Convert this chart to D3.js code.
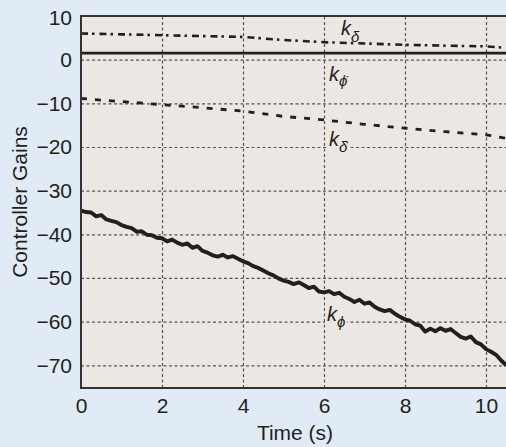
<!DOCTYPE html>
<html>
<head>
<meta charset="utf-8">
<script src="https://cdn.jsdelivr.net/npm/d3@7"></script>
<style>
  html, body { margin: 0; padding: 0; background: #e1ebf5; }
  svg { display: block; }
  text { font-family: "Liberation Sans", Arial, Helvetica, sans-serif; fill: #231f20; }
</style>
</head>
<body>
<svg id="chart" width="506" height="447"></svg>
<script>
// ---- data ----
const xTicks = [0, 2, 4, 6, 8, 10];
const yTicks = [10, 0, -10, -20, -30, -40, -50, -60, -70];
const xLabel = "Time (s)";
const yLabel = "Controller Gains";

// k_delta (dash-dot)
const kDeltaT = [0, 1, 2, 3, 4, 5, 6, 7, 8, 9, 10, 10.5];
const kDeltaV = [6.0, 5.8, 5.6, 5.4, 5.2, 4.5, 4.0, 3.7, 3.4, 3.2, 3.05, 2.7];

// k_phi_dot (solid thin)
const kPhiDotT = [0, 10.5];
const kPhiDotV = [1.5, 1.5];

// k_delta_dot (dashed)
const kDeltaDotT = [0, 1, 2, 3, 4, 5, 6, 7, 8, 9, 10, 10.5];
const kDeltaDotV = [-8.9, -9.6, -10.3, -11.0, -11.8, -13.0, -13.8, -14.8, -15.7, -16.5, -17.2, -18.0];

// k_phi (thick noisy solid), sampled every 0.125 s
const kPhiT = d3.range(85).map(i => i * 0.125);
const kPhiV = [
  -34.6, -34.9, -35.0, -35.9, -35.6, -36.6, -36.9, -37.2,
  -37.9, -38.3, -38.6, -39.4, -39.3, -40.1, -40.2, -40.8,
  -40.9, -41.6, -41.2, -41.9, -42.4, -42.1, -43.1, -42.7,
  -43.8, -44.2, -44.8, -45.1, -44.7, -45.3, -45.0, -45.6,
  -46.2, -46.6, -47.3, -47.7, -48.3, -48.9, -49.4, -50.1,
  -50.6, -50.9, -51.4, -51.0, -51.6, -52.3, -52.0, -53.1,
  -53.3, -53.0, -53.7, -53.4, -54.3, -54.8, -55.5, -55.0,
  -55.9, -55.6, -56.6, -57.2, -57.6, -57.3, -58.2, -58.9,
  -59.5, -59.8, -60.6, -60.9, -62.3, -61.6, -62.2, -61.5,
  -62.1, -61.7, -62.6, -63.5, -63.9, -63.4, -64.7, -65.2,
  -66.3, -66.9, -67.6, -68.9, -70.0
];

// ---- layout ----
const svg = d3.select("#chart");
const W = 506, H = 447;
const pLeft = 81, pTop = 16, pBottom = 388, pRight = 506.25;
const plotBg = "#ece7e2";
const ink = "#231f20";

const x = d3.scaleLinear().domain([0, 10.5]).range([pLeft, pRight]);
const y = d3.scaleLinear().domain([-75.2, 10]).range([pBottom, pTop]);

svg.append("rect").attr("width", W).attr("height", H).attr("fill", "#e1ebf5");
svg.append("rect")
  .attr("x", pLeft).attr("y", pTop)
  .attr("width", W - pLeft).attr("height", pBottom - pTop)
  .attr("fill", plotBg);

// grid
const gridX = svg.append("g")
  .attr("transform", `translate(0,${pBottom})`)
  .call(d3.axisBottom(x).tickValues(xTicks.filter(d => d !== 0)).tickSize(-(pBottom - pTop)).tickFormat(""));
const gridY = svg.append("g")
  .attr("transform", `translate(${pLeft},0)`)
  .call(d3.axisLeft(y).tickValues(yTicks.filter(d => d !== 10)).tickSize(-(W - pLeft)).tickFormat(""));
[gridX, gridY].forEach(g => {
  g.select(".domain").remove();
  g.selectAll(".tick line")
    .attr("stroke", "#5a5552")
    .attr("stroke-width", 1.2)
    .attr("stroke-dasharray", "3,2.5");
});

// label backgrounds layer (under lines)
const labelBgLayer = svg.append("g");

// lines
const lineGen = d3.line().x(d => x(d[0])).y(d => y(d[1]));
function drawLine(ts, vs, width, dash) {
  svg.append("path")
    .datum(ts.map((t, i) => [t, vs[i]]))
    .attr("d", lineGen)
    .attr("fill", "none")
    .attr("stroke", ink)
    .attr("stroke-width", width)
    .attr("stroke-linejoin", "round")
    .attr("stroke-dasharray", dash || null);
}
drawLine(kDeltaT, kDeltaV, 2.6, "7,4,2.5,5");
drawLine(kPhiDotT, kPhiDotV, 2.8, null);
drawLine(kDeltaDotT, kDeltaDotV, 2.8, "6,8");
drawLine(kPhiT, kPhiV, 3.9, null);

// axes frame
const axisY = svg.append("g")
  .attr("transform", `translate(${pLeft},0)`)
  .call(d3.axisLeft(y).tickValues(yTicks).tickSize(0).tickPadding(9));
const axisX = svg.append("g")
  .attr("transform", `translate(0,${pBottom})`)
  .call(d3.axisBottom(x).tickValues(xTicks).tickSize(0).tickPadding(10));
[axisX, axisY].forEach(g => {
  g.select(".domain").remove();
  g.selectAll(".tick text")
    .style("font-family", '"Liberation Sans", Arial, sans-serif')
    .style("font-size", "21px")
    .attr("fill", ink);
});
axisY.selectAll(".tick text").filter(d => d === 10).attr("y", 2);

svg.append("line").attr("x1", pLeft).attr("x2", pLeft).attr("y1", pTop - 1).attr("y2", pBottom + 1)
  .attr("stroke", "#333").attr("stroke-width", 2);
svg.append("line").attr("x1", pLeft).attr("x2", W).attr("y1", pTop).attr("y2", pTop)
  .attr("stroke", "#333").attr("stroke-width", 2);
svg.append("line").attr("x1", pLeft).attr("x2", W).attr("y1", pBottom).attr("y2", pBottom)
  .attr("stroke", "#333").attr("stroke-width", 2);

// axis titles
svg.append("text")
  .attr("x", 295).attr("y", 440)
  .attr("text-anchor", "middle")
  .style("font-size", "21px")
  .text(xLabel);
svg.append("text")
  .attr("transform", `translate(27,${(pTop + pBottom) / 2}) rotate(-90)`)
  .attr("text-anchor", "middle")
  .style("font-size", "21px")
  .text(yLabel);

// series labels: k with italic Greek subscript (dot accent as combining mark)
function seriesLabel(px, py, sub, subShift, withBg) {
  const t = svg.append("text")
    .attr("x", px).attr("y", py)
    .style("font-size", "20px")
    .style("font-style", "italic");
  t.append("tspan").text("k");
  t.append("tspan")
    .attr("dy", subShift)
    .style("font-size", "15px")
    .text(sub);
  if (withBg) {
    const b = t.node().getBBox();
    labelBgLayer.append("rect")
      .attr("x", b.x - 2).attr("y", b.y)
      .attr("width", b.width + 4).attr("height", b.height)
      .attr("fill", plotBg);
  }
}
seriesLabel(341, 35, "δ", 7, false);
seriesLabel(329, 81, "\u03D5\u0307", 5, false);
seriesLabel(329, 146, "δ\u0307", 6, true);
seriesLabel(327, 321, "\u03D5", 6, true);
</script>
</body>
</html>
